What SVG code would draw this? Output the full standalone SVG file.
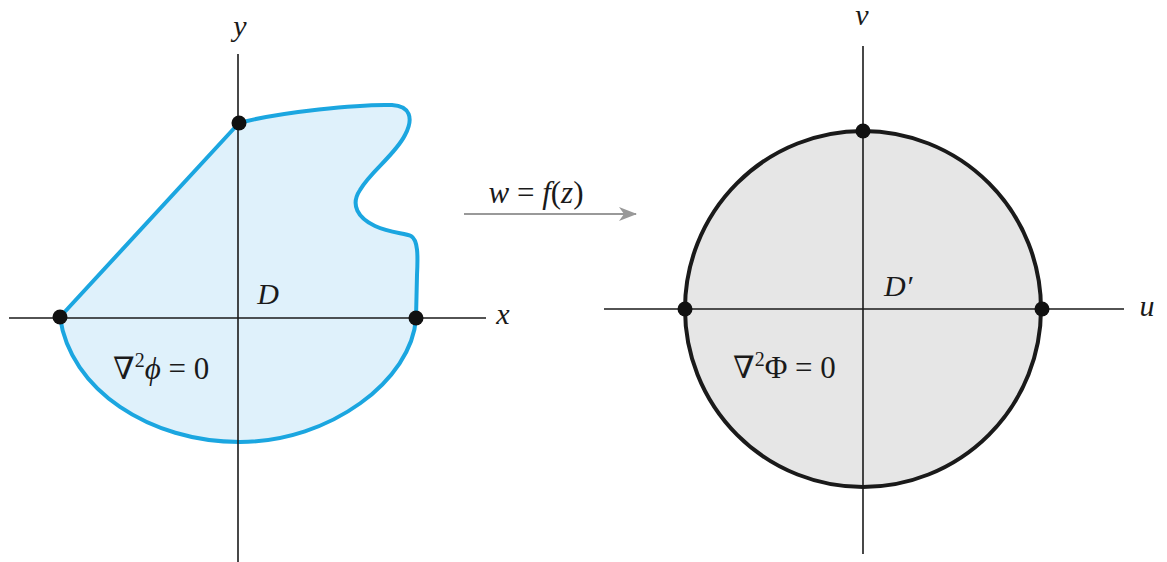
<svg xmlns="http://www.w3.org/2000/svg" width="1167" height="562" viewBox="0 0 1167 562">
<style>
.axis{stroke:#1a1a1a;stroke-width:1.6;fill:none}
.dot{fill:#111}
.t{font-family:"Liberation Serif","DejaVu Serif",serif;fill:#1a1a1a}
.i{font-style:italic}
</style>
<defs>
<marker id="ah" viewBox="0 0 18 14" refX="17" refY="7" markerWidth="18" markerHeight="14" markerUnits="userSpaceOnUse" orient="auto">
<path d="M0,0 L18,7 L0,14 L5,7 Z" fill="#999"/>
</marker>
</defs>
<rect width="1167" height="562" fill="#fff"/>
<g id="domainD">
<path d="M60 317 L239 123 C280 112 360 104 392 105 C410 106 414 118 405 135 C395 155 370 172 360 190 C350 205 358 218 375 226 C390 233 405 233 411 236 C418 240 418 255 417 275 L416 318 C412 380 330 442 240 442 C150 442 70 390 60 317 Z" fill="#dff1fb" stroke="#1ba6e0" stroke-width="4" stroke-linejoin="round"/>
<line class="axis" x1="238" y1="54" x2="238" y2="562"/>
<line class="axis" x1="9" y1="318" x2="486" y2="318"/>
<circle class="dot" cx="239" cy="123" r="7.5"/>
<circle class="dot" cx="60" cy="317" r="7.5"/>
<circle class="dot" cx="416" cy="318" r="7.5"/>
<text class="t i" x="240" y="36" font-size="30" text-anchor="middle">y</text>
<text class="t i" x="503" y="324" font-size="30" text-anchor="middle">x</text>
<text class="t i" x="268" y="304" font-size="30" text-anchor="middle">D</text>
<text class="t" x="113" y="379" font-size="31">∇<tspan font-size="20" dy="-12">2</tspan><tspan class="i" dy="12">ϕ</tspan> = 0</text>
</g>
<g id="connectors">
<line x1="464" y1="214" x2="636" y2="214" stroke="#999" stroke-width="2" marker-end="url(#ah)"/>
<text class="t" x="536" y="203" font-size="31" text-anchor="middle"><tspan class="i">w</tspan> = <tspan class="i">f</tspan>(<tspan class="i">z</tspan>)</text>
</g>
<g id="domainDprime">
<circle cx="863" cy="309" r="178" fill="#e6e6e6" stroke="#1a1a1a" stroke-width="4"/>
<line class="axis" x1="863" y1="46" x2="863" y2="554"/>
<line class="axis" x1="604" y1="309" x2="1124" y2="309"/>
<circle class="dot" cx="863" cy="131" r="7.5"/>
<circle class="dot" cx="685" cy="309" r="7.5"/>
<circle class="dot" cx="1042" cy="309" r="7.5"/>
<text class="t i" x="862" y="25" font-size="30" text-anchor="middle">v</text>
<text class="t i" x="1147" y="316" font-size="30" text-anchor="middle">u</text>
<text class="t i" x="884" y="296" font-size="30">D′</text>
<text class="t" x="733" y="378" font-size="31">∇<tspan font-size="20" dy="-12">2</tspan><tspan dy="12">Φ</tspan> = 0</text>
</g>
</svg>
